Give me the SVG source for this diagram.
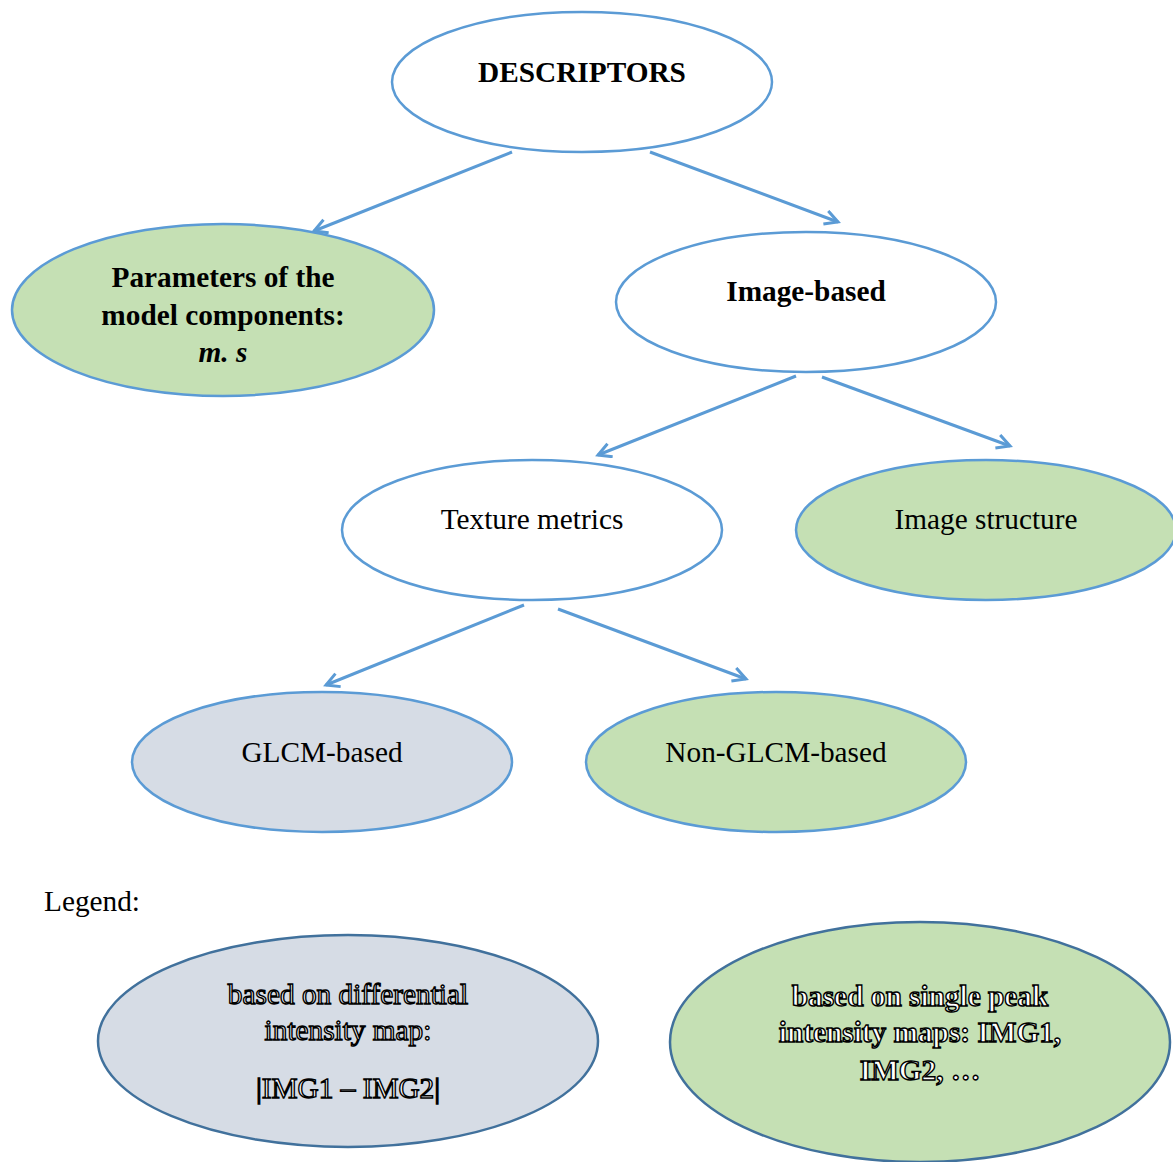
<svg xmlns="http://www.w3.org/2000/svg" width="1173" height="1162" viewBox="0 0 1173 1162">
<defs>
<style>
.n{stroke:#5b9bd5;stroke-width:2.5}
.w{fill:#ffffff}
.g{fill:#c5e0b4}
.b{fill:#d6dce5}
.lg{stroke:#41719c;stroke-width:2.5}
text{font-family:"Liberation Serif","Times New Roman",serif;font-size:29.3px;fill:#000;text-anchor:middle}
.bd{font-weight:bold}
.o{fill:#ffffff;stroke:#000;stroke-width:1.4}
.c{stroke:#5b9bd5;stroke-width:3;fill:none}
</style>
<marker id="ah" markerWidth="20" markerHeight="20" refX="14" refY="8" orient="auto" markerUnits="userSpaceOnUse">
<path d="M1,1 L14,8 L1,15" fill="none" stroke="#5b9bd5" stroke-width="3"/>
</marker>
</defs>
<rect width="1173" height="1162" fill="#ffffff"/>
<g id="connectors">
<line class="c" x1="512" y1="152" x2="314" y2="231" marker-end="url(#ah)"/>
<line class="c" x1="650" y1="152" x2="838" y2="222" marker-end="url(#ah)"/>
<line class="c" x1="796" y1="376" x2="598" y2="455" marker-end="url(#ah)"/>
<line class="c" x1="822" y1="377" x2="1010" y2="446" marker-end="url(#ah)"/>
<line class="c" x1="524" y1="605" x2="326" y2="685" marker-end="url(#ah)"/>
<line class="c" x1="558" y1="609" x2="746" y2="679" marker-end="url(#ah)"/>
</g>
<g id="descriptors">
<ellipse class="n w" cx="582" cy="82" rx="190" ry="70"/>
<text class="bd" x="582" y="82">DESCRIPTORS</text>
</g>
<g id="parameters">
<ellipse class="n g" cx="223" cy="310" rx="211" ry="86"/>
<text class="bd" x="223" y="287">Parameters of the</text>
<text class="bd" x="223" y="325">model components:</text>
<text class="bd" x="223" y="362" font-style="italic">m. s</text>
</g>
<g id="image-based">
<ellipse class="n w" cx="806" cy="302" rx="190" ry="70"/>
<text class="bd" x="806" y="301">Image-based</text>
</g>
<g id="texture-metrics">
<ellipse class="n w" cx="532" cy="530" rx="190" ry="70"/>
<text x="532" y="529">Texture metrics</text>
</g>
<g id="image-structure">
<ellipse class="n g" cx="986" cy="530" rx="190" ry="70"/>
<text x="986" y="529">Image structure</text>
</g>
<g id="glcm">
<ellipse class="n b" cx="322" cy="762" rx="190" ry="70"/>
<text x="322" y="762">GLCM-based</text>
</g>
<g id="non-glcm">
<ellipse class="n g" cx="776" cy="762" rx="190" ry="70"/>
<text x="776" y="762">Non-GLCM-based</text>
</g>
<g id="legend-label">
<text x="44" y="911" style="text-anchor:start">Legend:</text>
</g>
<g id="legend-differential">
<ellipse class="lg b" cx="348" cy="1041" rx="250" ry="106"/>
<text class="o" x="348" y="1004">based on differential</text>
<text class="o" x="348" y="1040">intensity map:</text>
<text class="o" x="348" y="1098">|IMG1 – IMG2|</text>
</g>
<g id="legend-single">
<ellipse class="lg g" cx="920" cy="1042" rx="250" ry="120"/>
<text class="o bd" x="920" y="1006">based on single peak</text>
<text class="o bd" x="920" y="1042">intensity maps: IMG1,</text>
<text class="o bd" x="920" y="1080">IMG2, …</text>
</g>
</svg>
